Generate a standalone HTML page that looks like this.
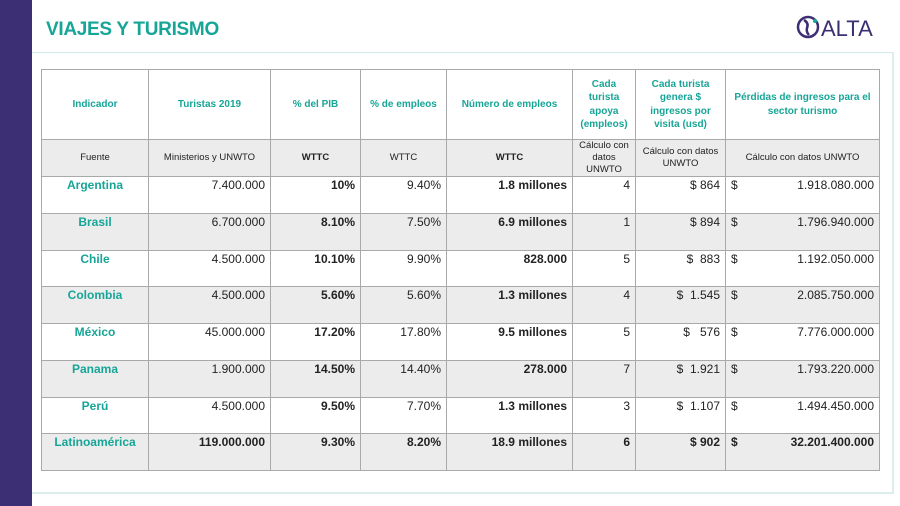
<!DOCTYPE html>
<html><head><meta charset="utf-8"><style>
body{margin:0;width:900px;height:506px;background:#fff;position:relative;overflow:hidden;font-family:"Liberation Sans",sans-serif}
.bar{position:absolute;left:0;top:0;width:32px;height:506px;background:#3d2f73}
.title{position:absolute;left:46px;top:19px;font-size:19px;font-weight:bold;color:#17a597;letter-spacing:-0.3px}
.hl{position:absolute;left:32px;top:52px;width:862px;height:1px;background:#cfeae7}
.frame{position:absolute;left:32px;top:52px;width:860px;height:440px;border-right:2px solid #dcefed;border-bottom:2px solid #dcefed}
.logo{position:absolute;left:795px;top:14px;font-size:22px;color:#3d2f73}
table{position:absolute;left:41px;top:69px;border-collapse:collapse;table-layout:fixed;width:838px}
td{border:1.5px solid #a9a9a9;padding:0 5px;font-size:12px;color:#222;vertical-align:top;text-align:right;height:35.75px;line-height:17px;overflow:hidden}
tr.h td{height:69px;vertical-align:middle;text-align:center;color:#17a597;font-weight:bold;font-size:10px;line-height:13.5px;padding:0 3px}
tr.f td{height:36px;vertical-align:middle;text-align:center;font-size:9.5px;line-height:12px;background:#ececec;padding:0 2px}
td.n{text-align:center;color:#17a597;font-weight:bold}
.g td{background:#ececec}
b{font-weight:bold}
.d{display:flex;justify-content:space-between}
</style></head><body>
<div class="bar"></div>
<div class="title">VIAJES Y TURISMO</div>
<div class="hl"></div>
<div class="frame"></div>
<div class="logo"><svg width="26" height="26" viewBox="0 0 26 26" style="vertical-align:-4px"><circle cx="13" cy="13" r="10" fill="none" stroke="#3d2f73" stroke-width="2.5"/><path d="M9 6 q5 3 3 8 q-1 4 2 7" stroke="#3d2f73" stroke-width="2.5" fill="none"/><circle cx="20" cy="7" r="2" fill="#17a597"/></svg>ALTA</div>
<table>
<colgroup><col style="width:107px"><col style="width:122px"><col style="width:90px"><col style="width:86px"><col style="width:126px"><col style="width:63px"><col style="width:90px"><col style="width:154px"></colgroup>
<tr class="h"><td>Indicador</td><td>Turistas 2019</td><td>% del PIB</td><td>% de empleos</td><td>Número de empleos</td><td>Cada turista apoya (empleos)</td><td>Cada turista genera $ ingresos por visita (usd)</td><td>Pérdidas de ingresos para el sector turismo</td></tr>
<tr class="f"><td>Fuente</td><td>Ministerios y UNWTO</td><td><b>WTTC</b></td><td>WTTC</td><td><b>WTTC</b></td><td>Cálculo con datos UNWTO</td><td>Cálculo con datos UNWTO</td><td>Cálculo con datos UNWTO</td></tr>
<tr><td class="n">Argentina</td><td>7.400.000</td><td><b>10%</b></td><td>9.40%</td><td><b>1.8 millones</b></td><td>4</td><td>$ 864</td><td><div class="d"><span>$</span><span>1.918.080.000</span></div></td></tr>
<tr class="g"><td class="n">Brasil</td><td>6.700.000</td><td><b>8.10%</b></td><td>7.50%</td><td><b>6.9 millones</b></td><td>1</td><td>$ 894</td><td><div class="d"><span>$</span><span>1.796.940.000</span></div></td></tr>
<tr><td class="n">Chile</td><td>4.500.000</td><td><b>10.10%</b></td><td>9.90%</td><td><b>828.000</b></td><td>5</td><td>$&nbsp; 883</td><td><div class="d"><span>$</span><span>1.192.050.000</span></div></td></tr>
<tr class="g"><td class="n">Colombia</td><td>4.500.000</td><td><b>5.60%</b></td><td>5.60%</td><td><b>1.3 millones</b></td><td>4</td><td>$&nbsp; 1.545</td><td><div class="d"><span>$</span><span>2.085.750.000</span></div></td></tr>
<tr><td class="n">México</td><td>45.000.000</td><td><b>17.20%</b></td><td>17.80%</td><td><b>9.5 millones</b></td><td>5</td><td>$&nbsp;&nbsp; 576</td><td><div class="d"><span>$</span><span>7.776.000.000</span></div></td></tr>
<tr class="g"><td class="n">Panama</td><td>1.900.000</td><td><b>14.50%</b></td><td>14.40%</td><td><b>278.000</b></td><td>7</td><td>$&nbsp; 1.921</td><td><div class="d"><span>$</span><span>1.793.220.000</span></div></td></tr>
<tr><td class="n">Perú</td><td>4.500.000</td><td><b>9.50%</b></td><td>7.70%</td><td><b>1.3 millones</b></td><td>3</td><td>$&nbsp; 1.107</td><td><div class="d"><span>$</span><span>1.494.450.000</span></div></td></tr>
<tr class="g"><td class="n">Latinoamérica</td><td><b>119.000.000</b></td><td><b>9.30%</b></td><td><b>8.20%</b></td><td><b>18.9 millones</b></td><td><b>6</b></td><td><b>$ 902</b></td><td><div class="d"><b>$</b><b>32.201.400.000</b></div></td></tr>
</table>
</body></html>
